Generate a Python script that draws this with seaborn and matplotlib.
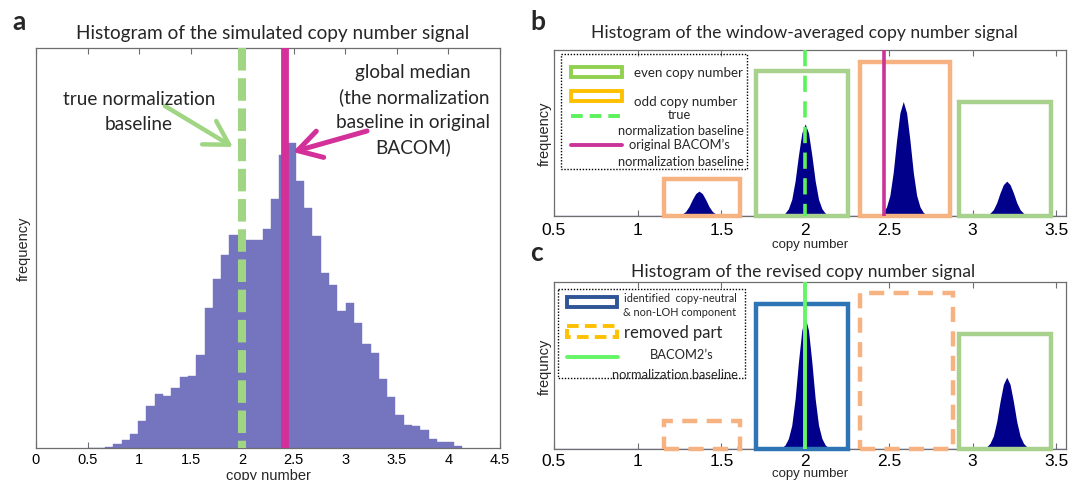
import numpy as np
import pandas as pd
import matplotlib
matplotlib.use("Agg")
import matplotlib.pyplot as plt
from matplotlib.patches import Rectangle
from matplotlib.lines import Line2D
from matplotlib.transforms import Affine2D
import seaborn as sns

W, H = 1069, 481

# ---------------- data ----------------
# (a) histogram of the simulated copy number signal
a_bin_start = 0.508
a_bin_width = 0.0805
a_counts = [1, 1, 3, 13, 25, 41, 80, 126, 163, 156, 180, 213, 217, 278, 421, 506, 578, 638,
            623, 623, 623, 658, 747, 878, 916, 800, 720, 636, 525, 490, 411, 436, 376, 311,
            285, 207, 152, 98, 68, 65, 53, 26, 18, 18, 5]
a_xticks = [0, 0.5, 1, 1.5, 2, 2.5, 3, 3.5, 4, 4.5]
a_xticklabels = ["0", "0.5", "1", "1.5", "2", "2.5", "3", "3.5", "4", "4.5"]
true_baseline = 2.0
bacom_baseline_a = 2.414

# (b) window-averaged signal: peaks on a 0.02 grid around each centre
b_peak_centers = [1.366, 2.0, 2.586, 3.204]
b_peak_values = [
    [0, .002, .005, .012, .027, .057, .099, .135, .150, .135, .099, .057, .027, .012, .005, .002, 0],
    [0, .006, .017, .044, .100, .211, .366, .500, .555, .500, .366, .211, .100, .044, .017, .006, 0],
    [0, .007, .021, .055, .124, .262, .455, .621, .690, .621, .455, .262, .124, .055, .021, .007, 0],
    [0, .002, .006, .017, .038, .080, .139, .189, .210, .189, .139, .080, .038, .017, .006, .002, 0],
]
b_box_left = [1.156, 1.706, 2.325, 2.920]
b_box_right = [1.613, 2.257, 2.868, 3.471]
b_box_top = [0.224, 0.876, 0.930, 0.685]
b_box_kind = ["odd", "even", "odd", "even"]
bacom_baseline_b = 2.473

# (c) revised signal
c_peak_centers = [2.0, 3.204]
c_peak_values = [
    [0, .008, .024, .063, .142, .300, .521, .711, .790, .711, .521, .300, .142, .063, .024, .008, 0],
    [0, .004, .013, .034, .077, .163, .284, .387, .430, .387, .284, .163, .077, .034, .013, .004, 0],
]
c_box_left = [1.156, 1.706, 2.325, 2.920]
c_box_right = [1.613, 2.257, 2.881, 3.471]
c_box_top = [0.170, 0.867, 0.936, 0.687]
c_box_kind = ["removed", "neutral", "removed", "even"]
bacom2_baseline = 2.0

bc_xticks = [0.5, 1, 1.5, 2, 2.5, 3, 3.5]
bc_xticklabels = ["0.5", "1", "1.5", "2", "2.5", "3", "3.5"]

# ---------------- style ----------------
A_FILL = "#7474bf"
A_GREEN = "#a0d683"
A_MAG = "#d4309a"
NAVY = "#00008b"
BOX_GREEN = "#a9d18e"
BOX_ORANGE = "#f7b282"
BOX_BLUE = "#2e75b6"
LINE_GREEN = "#5cf25c"
LEG_GREEN = "#92d050"
LEG_ORANGE = "#ffc000"
LEG_BLUE = "#2f5597"
LEG_MAG = "#cc3399"
SPINE = "#6e6e6e"
TITLE_FONT = ["Lato", "DejaVu Sans"]

sns.set_style("white")
plt.rcParams["font.family"] = ["Liberation Sans", "DejaVu Sans"]

fig = plt.figure(figsize=(W / 100, H / 100), dpi=100)
px = Affine2D().scale(1 / W, -1 / H).translate(0, 1) + fig.transFigure


def ax_rect(l, t, r, b):
    return [l / W, 1 - b / H, (r - l) / W, (b - t) / H]


def style_axes(ax, ticks, labels, fs, pad):
    ax.set_xticks(ticks)
    ax.set_xticklabels(labels)
    ax.set_yticks([])
    ax.tick_params(axis="x", direction="in", top=True, bottom=True, length=4,
                   color=SPINE, labelsize=fs, pad=pad, labelcolor="black")
    for s in ax.spines.values():
        s.set_color(SPINE)
        s.set_linewidth(0.9)
        s.set_visible(True)


ax_a = fig.add_axes(ax_rect(36, 49, 500, 449))
ax_b = fig.add_axes(ax_rect(554, 51, 1066, 217))
ax_c = fig.add_axes(ax_rect(554, 283, 1066, 450))

# ---------------- panel a ----------------
a_edges = a_bin_start + a_bin_width * np.arange(len(a_counts) + 1)
a_df = pd.DataFrame({"copy": a_edges[:-1] + a_bin_width / 2, "count": a_counts})
sns.histplot(data=a_df, x="copy", weights="count", bins=list(a_edges), color=A_FILL, alpha=1,
             edgecolor=A_FILL, linewidth=0.3, ax=ax_a)
ax_a.set_xlim(0, 4.5)
ax_a.set_ylim(0, 1200)
style_axes(ax_a, a_xticks, a_xticklabels, 10.5, 3)
ax_a.set_ylabel("frequency", fontsize=10.5)
ax_a.yaxis.set_label_coords(-0.012, 0.5)
ax_a.set_xlabel("copy number", fontsize=10.5)
ax_a.xaxis.set_label_coords(0.5, -0.05)
xa = ax_a.get_xaxis_transform()
ax_a.plot([true_baseline, true_baseline], [1, 0], transform=xa, color=A_GREEN, lw=5.8,
          ls=(0, (2.8, 0.95)), solid_capstyle="butt", zorder=4)
ax_a.axvline(bacom_baseline_a, color=A_MAG, lw=5.6, zorder=4)
arrow_kw = dict(arrowstyle="->,head_length=0.6,head_width=0.35", mutation_scale=28,
                shrinkA=0, shrinkB=0)
ax_a.annotate("", xy=(1.91, 0.7525), xytext=(1.25, 0.855), xycoords=xa, textcoords=xa,
              arrowprops=dict(color=A_GREEN, lw=3.2, **arrow_kw), zorder=5)
ax_a.annotate("", xy=(2.49, 0.74), xytext=(3.21, 0.7925), xycoords=xa, textcoords=xa,
              arrowprops=dict(color=A_MAG, lw=3.6, **arrow_kw), zorder=5)

for s, x, y in [("true normalization", 139, 105), ("baseline", 139, 130),
                ("global median", 413, 78), ("(the normalization", 414, 103),
                ("baseline in original", 413, 128), ("BACOM)", 413, 153)]:
    fig.text(x / W, 1 - y / H, s, ha="center", va="baseline", fontsize=13.7, family=TITLE_FONT)

# ---------------- panels b and c ----------------
bin_edges_off = np.round(np.arange(-0.17, 0.1701, 0.02), 3)
bin_centers_off = bin_edges_off[:-1] + 0.01


def draw_peaks(ax, centers, values):
    for c, v in zip(centers, values):
        df = pd.DataFrame({"copy": c + bin_centers_off, "freq": v})
        sns.histplot(data=df, x="copy", weights="freq", bins=list(c + bin_edges_off),
                     element="poly", color=NAVY, alpha=1, linewidth=0, ax=ax)


draw_peaks(ax_b, b_peak_centers, b_peak_values)
draw_peaks(ax_c, c_peak_centers, c_peak_values)

kind_style = {
    "odd": dict(ec=BOX_ORANGE, ls="-"),
    "even": dict(ec=BOX_GREEN, ls="-"),
    "neutral": dict(ec=BOX_BLUE, ls="-"),
    "removed": dict(ec=BOX_ORANGE, ls=(0, (3.4, 2.1))),
}

for ax, L, R, T, K, pad in [(ax_b, b_box_left, b_box_right, b_box_top, b_box_kind, 4.5),
                            (ax_c, c_box_left, c_box_right, c_box_top, c_box_kind, 3.0)]:
    ax.set_xlim(0.5, 3.558)
    ax.set_ylim(0, 1)
    style_axes(ax, bc_xticks, bc_xticklabels, 12.5, pad)
    ax.axhline(0, color="#7878d0", lw=1.0, zorder=2)
    for l, r, t, k in zip(L, R, T, K):
        st = kind_style[k]
        ax.add_patch(Rectangle((l, 0), r - l, t, fill=False, ec=st["ec"], ls=st["ls"],
                               lw=3.2, joinstyle="miter", clip_on=False, zorder=3))
    ax.set_xlabel("copy number", fontsize=9.5)

ax_b.xaxis.set_label_coords(0.5, -0.135)
ax_c.xaxis.set_label_coords(0.5, -0.107)
ax_b.set_ylabel("frequency", fontsize=10.5)
ax_c.set_ylabel("frequncy", fontsize=10.5)
ax_b.yaxis.set_label_coords(-0.005, 0.5)
ax_c.yaxis.set_label_coords(-0.005, 0.5)

xb = ax_b.get_xaxis_transform()
ax_b.plot([true_baseline, true_baseline], [1, 0], transform=xb, color=LINE_GREEN, lw=2.6,
          ls=(0, (4.5, 2.6)), zorder=5)
ax_b.axvline(bacom_baseline_b, color=LEG_MAG, lw=2.6, zorder=5)
ax_c.axvline(bacom2_baseline, color="#66f566", lw=2.8, zorder=5)

# ---------------- titles and panel letters ----------------
fig.text(273 / W, 1 - 39 / H, "Histogram of the simulated copy number signal", ha="center",
         va="baseline", fontsize=13.7, family=TITLE_FONT)
fig.text(804 / W, 1 - 38 / H, "Histogram of the window-averaged copy number signal",
         ha="center", va="baseline", fontsize=12.6, family=TITLE_FONT)
fig.text(803 / W, 1 - 277 / H, "Histogram of the revised copy number signal", ha="center",
         va="baseline", fontsize=12.6, family=TITLE_FONT)
for s, x, y in [("a", 12, 30), ("b", 530, 30), ("c", 530, 261)]:
    fig.text(x / W, 1 - y / H, s, ha="left", va="baseline", fontsize=19, fontweight="bold",
             family=TITLE_FONT)

# ---------------- manual legends ----------------
def frame(l, t, r, b):
    fig.add_artist(Rectangle((l, t), r - l, b - t, transform=px, fill=False, ec="black",
                             lw=1.0, ls=(0, (1, 1.2)), zorder=10))


def rect(l, t, r, b, color, ls="-"):
    fig.add_artist(Rectangle((l, t), r - l, b - t, transform=px, fill=False, ec=color,
                             lw=2.8, ls=ls, joinstyle="miter", zorder=10))


def hline(x1, x2, y, color, ls="-"):
    fig.add_artist(Line2D([x1, x2], [y, y], transform=px, color=color, lw=2.8, ls=ls,
                          zorder=10))


def ltext(x, y, s, fs):
    fig.text(x / W, 1 - y / H, s, ha="center", va="center", fontsize=fs, family=TITLE_FONT,
             zorder=11)


frame(561, 55, 747, 170)
rect(571, 68, 622, 78, LEG_GREEN)
ltext(688, 73, "even copy number", 9.6)
rect(571, 92, 622, 102, LEG_ORANGE)
ltext(686, 102, "odd copy number", 9.6)
hline(571, 622, 117, LINE_GREEN, ls=(0, (3, 1.8)))
ltext(679, 115, "true", 9.3)
ltext(681, 131, "normalization baseline", 9.3)
hline(571, 622, 146, LEG_MAG)
ltext(679, 145, "original BACOM\u2019s", 9.3)
ltext(681, 162, "normalization baseline", 9.3)

frame(558, 290, 745, 379)
rect(567, 298, 617, 308, LEG_BLUE)
ltext(680, 298, "identified  copy-neutral", 7.8)
ltext(680, 313, "& non-LOH component", 7.8)
rect(567, 327, 617, 338, LEG_ORANGE, ls=(0, (3, 1.6)))
ltext(673, 333, "removed part", 12)
hline(567, 618, 358, "#66f566")
ltext(682, 355, "BACOM2\u2019s", 9.3)
ltext(675, 375, "normalization baseline", 9.3)

fig.savefig("out.png", dpi=100)
